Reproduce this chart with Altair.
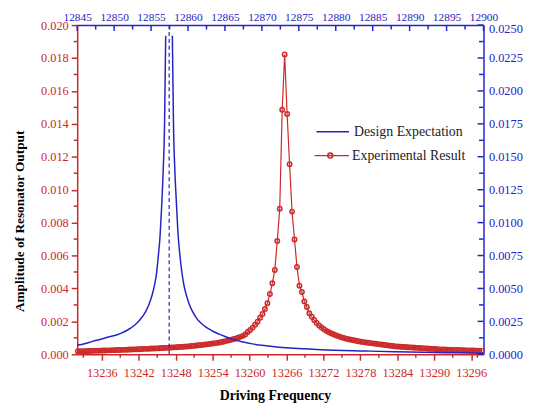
import altair as alt
import pandas as pd

RED = "#cc2a2a"
BLUE = "#2424c4"
FONT = "Liberation Serif"
W, H = 411, 333

# ---- Experimental result (bottom / left axes) ----
red_freq = [
    13232.1, 13232.5, 13232.9, 13233.3, 13233.7, 13234.1, 13234.5, 13234.9, 13235.3, 13235.7,
    13236.1, 13236.5, 13236.9, 13237.3, 13237.7, 13238.1, 13238.5, 13238.9, 13239.3, 13239.7,
    13240.1, 13240.5, 13240.9, 13241.3, 13241.7, 13242.1, 13242.5, 13242.9, 13243.3, 13243.7,
    13244.1, 13244.5, 13244.9, 13245.3, 13245.7, 13246.1, 13246.5, 13246.9, 13247.3, 13247.7,
    13248.1, 13248.5, 13248.9, 13249.3, 13249.7, 13250.1, 13250.5, 13250.9, 13251.3, 13251.7,
    13252.1, 13252.5, 13252.9, 13253.3, 13253.7, 13254.1, 13254.5, 13254.9, 13255.3, 13255.7,
    13256.1, 13256.5, 13256.9, 13257.3, 13257.7, 13258.1, 13258.5, 13258.9, 13259.3, 13259.7,
    13260.1, 13260.5, 13260.9, 13261.3, 13261.7, 13262.1, 13262.5, 13262.9, 13263.3, 13263.7,
    13264.1, 13264.5, 13264.9, 13265.3, 13265.7, 13266.1, 13266.5, 13266.9, 13267.3, 13267.7,
    13268.1, 13268.5, 13268.9, 13269.3, 13269.7, 13270.1, 13270.5, 13270.9, 13271.3, 13271.7,
    13272.1, 13272.5, 13272.9, 13273.3, 13273.7, 13274.1, 13274.5, 13274.9, 13275.3, 13275.7,
    13276.1, 13276.5, 13276.9, 13277.3, 13277.7, 13278.1, 13278.5, 13278.9, 13279.3, 13279.7,
    13280.1, 13280.5, 13280.9, 13281.3, 13281.7, 13282.1, 13282.5, 13282.9, 13283.3, 13283.7,
    13284.1, 13284.5, 13284.9, 13285.3, 13285.7, 13286.1, 13286.5, 13286.9, 13287.3, 13287.7,
    13288.1, 13288.5, 13288.9, 13289.3, 13289.7, 13290.1, 13290.5, 13290.9, 13291.3, 13291.7,
    13292.1, 13292.5, 13292.9, 13293.3, 13293.7, 13294.1, 13294.5, 13294.9, 13295.3, 13295.7,
    13296.1, 13296.5, 13296.9, 13297.3, 13297.7,
]
red_amp = [
    0.00018, 0.00018, 0.00019, 0.00019, 0.00020, 0.00020, 0.00021, 0.00021, 0.00022, 0.00022,
    0.00023, 0.00023, 0.00024, 0.00024, 0.00025, 0.00025, 0.00026, 0.00026, 0.00027, 0.00027,
    0.00028, 0.00029, 0.00029, 0.00030, 0.00031, 0.00031, 0.00032, 0.00033, 0.00033, 0.00034,
    0.00035, 0.00035, 0.00036, 0.00037, 0.00038, 0.00038, 0.00039, 0.00040, 0.00041, 0.00042,
    0.00043, 0.00044, 0.00045, 0.00046, 0.00047, 0.00048, 0.00050, 0.00051, 0.00053, 0.00055,
    0.00056, 0.00058, 0.00060, 0.00062, 0.00064, 0.00066, 0.00068, 0.00070, 0.00073, 0.00076,
    0.00080, 0.00083, 0.00087, 0.00091, 0.00095, 0.00100, 0.00106, 0.00112, 0.00120, 0.00135,
    0.00148, 0.00162, 0.00180, 0.00198, 0.00222, 0.00245, 0.00275, 0.00310, 0.00366, 0.00432,
    0.00512, 0.00689, 0.00884, 0.01486, 0.01821, 0.01460, 0.01155, 0.00867, 0.00697, 0.00530,
    0.00417, 0.00378, 0.00321, 0.00287, 0.00250, 0.00228, 0.00208, 0.00190, 0.00175, 0.00163,
    0.00152, 0.00142, 0.00134, 0.00127, 0.00120, 0.00114, 0.00109, 0.00104, 0.00099, 0.00095,
    0.00091, 0.00088, 0.00085, 0.00082, 0.00079, 0.00076, 0.00074, 0.00072, 0.00070, 0.00068,
    0.00066, 0.00064, 0.00062, 0.00060, 0.00058, 0.00056, 0.00054, 0.00052, 0.00050, 0.00048,
    0.00047, 0.00046, 0.00045, 0.00044, 0.00043, 0.00042, 0.00041, 0.00040, 0.00039, 0.00038,
    0.00037, 0.00036, 0.00035, 0.00034, 0.00033, 0.00032, 0.00031, 0.00030, 0.00029, 0.00029,
    0.00028, 0.00028, 0.00027, 0.00027, 0.00026, 0.00026, 0.00025, 0.00025, 0.00024, 0.00024,
    0.00023, 0.00023, 0.00022, 0.00022, 0.00021,
]

# ---- Design expectation (top / right axes) ----
blue_left_freq = [12845.0, 12846.0, 12847.07, 12848.2, 12849.32, 12850.5, 12851.05, 12851.58,
                  12852.05, 12852.5, 12852.95, 12853.38, 12853.68, 12853.93, 12854.18,
                  12854.43, 12854.68, 12854.93, 12855.18, 12855.43, 12855.73, 12855.97,
                  12856.23, 12856.43, 12856.63, 12856.83, 12856.98]
blue_left_amp = [0.00068, 0.00080, 0.00098, 0.00114, 0.00133, 0.00150, 0.00163, 0.00177,
                 0.00192, 0.00209, 0.00230, 0.00254, 0.00275, 0.00294, 0.00317,
                 0.00343, 0.00375, 0.00412, 0.00458, 0.00515, 0.00610, 0.00740,
                 0.00910, 0.01120, 0.01380, 0.01760, 0.02420]
blue_right_freq = [12857.88, 12858.03, 12858.23, 12858.43, 12858.63, 12858.89, 12859.13,
                   12859.43, 12859.68, 12859.93, 12860.18, 12860.43, 12860.68, 12860.93,
                   12861.18, 12861.48, 12861.93, 12862.43, 12862.93, 12863.5, 12864.2,
                   12865.0, 12866.0, 12867.3, 12868.7, 12870.3, 12872.3, 12874.3, 12878.0,
                   12884.0, 12888.0, 12892.0, 12896.0, 12900.0]
blue_right_amp = [0.02420, 0.01760, 0.01380, 0.01150, 0.00930, 0.00760, 0.00640,
                  0.00530, 0.00468, 0.00420, 0.00378, 0.00345, 0.00318, 0.00294,
                  0.00273, 0.00252, 0.00228, 0.00206, 0.00189, 0.00171, 0.00153,
                  0.00135, 0.00115, 0.00095, 0.00079, 0.00066, 0.00054, 0.00045, 0.00035,
                  0.00025, 0.00019, 0.00015, 0.00011, 0.00008]
resonance_freq = [12857.45]

# ---- ticks ----
bottom_ticks = [13236, 13242, 13248, 13254, 13260, 13266, 13272, 13278, 13284, 13290, 13296]
bottom_minor = [13233, 13239, 13245, 13251, 13257, 13263, 13269, 13275, 13281, 13287, 13293, 13297]
left_ticks = [0.0, 0.002, 0.004, 0.006, 0.008, 0.010, 0.012, 0.014, 0.016, 0.018, 0.020]
left_minor = [0.001, 0.003, 0.005, 0.007, 0.009, 0.011, 0.013, 0.015, 0.017, 0.019]
top_ticks = [12845, 12850, 12855, 12860, 12865, 12870, 12875, 12880, 12885, 12890, 12895, 12900]
top_minor = [12847.5, 12852.5, 12857.5, 12862.5, 12867.5, 12872.5, 12877.5, 12882.5,
             12887.5, 12892.5, 12897.5]
right_ticks = [0.0, 0.0025, 0.005, 0.0075, 0.010, 0.0125, 0.015, 0.0175, 0.020, 0.0225, 0.025]
right_minor = [0.00125, 0.00375, 0.00625, 0.00875, 0.01125, 0.01375, 0.01625, 0.01875,
               0.02125, 0.02375]

red_df = pd.DataFrame({"freq": red_freq, "amp": red_amp})
blue_df = pd.concat([
    pd.DataFrame({"freq": blue_left_freq, "amp": blue_left_amp, "branch": "a"}),
    pd.DataFrame({"freq": blue_right_freq, "amp": blue_right_amp, "branch": "b"}),
])

# ---------- red group ----------
x_red = alt.X("freq:Q",
              scale=alt.Scale(domain=[13232, 13298], nice=False, zero=False),
              axis=alt.Axis(orient="bottom", values=bottom_ticks, format="d",
                            title="Driving Frequency", domainColor=RED, tickColor=RED,
                            labelColor=RED, tickSize=6, tickWidth=1.5, domainWidth=1.5,
                            labelPadding=6, labelFont=FONT, labelFontSize=12.5,
                            labelFlush=False, labelOverlap=False,
                            titleFont=FONT, titleFontSize=14, titleFontWeight="bold",
                            titleColor="black", titlePadding=10, titleX=200, grid=False))
y_red = alt.Y("amp:Q",
              scale=alt.Scale(domain=[0, 0.02], nice=False, zero=False),
              axis=alt.Axis(orient="left", values=left_ticks, format=".3f",
                            title="Amplitude of Resonator Output", domainColor=RED,
                            tickColor=RED, labelColor=RED, tickSize=6, tickWidth=1.5,
                            domainWidth=1.5, labelPadding=3, labelFont=FONT,
                            labelFontSize=12.5, labelFlush=False, labelOverlap=False,
                            titleFont=FONT, titleFontSize=13.5, titleFontWeight="bold",
                            titleColor="black", titlePadding=14, titleY=198, grid=False))

red_base = alt.Chart(red_df).encode(x=x_red, y=y_red)
red_line = red_base.mark_line(color=RED, strokeWidth=1.2)
red_pts = red_base.mark_point(shape="circle", filled=False, color=RED, size=20,
                              strokeWidth=1.5, opacity=1)
bottom_minor_layer = alt.Chart(pd.DataFrame({"freq": bottom_minor})).mark_rule(
    color=RED, strokeWidth=1.5).encode(x=x_red, y=alt.value(H), y2=alt.value(H + 3.5))
left_minor_layer = alt.Chart(pd.DataFrame({"amp": left_minor})).mark_rule(
    color=RED, strokeWidth=1.5).encode(y=y_red, x=alt.value(0), x2=alt.value(-3.5))

red_group = alt.layer(red_line, red_pts, bottom_minor_layer, left_minor_layer)

# ---------- blue group ----------
x_blue = alt.X("freq:Q",
               scale=alt.Scale(domain=[12845, 12900], nice=False, zero=False),
               axis=alt.Axis(orient="top", values=top_ticks, format="d", title=None,
                             ticks=False, tickSize=0, domainColor=BLUE, domainWidth=1.5,
                             labelColor=BLUE, labelPadding=3, labelFont=FONT,
                             labelFontSize=11.5, labelFlush=False, labelOverlap=False,
                             grid=False))
y_blue = alt.Y("amp:Q",
               scale=alt.Scale(domain=[0, 0.025], nice=False, zero=False),
               axis=alt.Axis(orient="right", values=right_ticks, format=".4f", title=None,
                             ticks=False, tickSize=0, domainColor=BLUE, domainWidth=1.5,
                             labelColor=BLUE, labelPadding=5, labelFont=FONT,
                             labelFontSize=12.5, labelFlush=False, labelOverlap=False,
                             labelOffset={"condition": {"test": "datum.value >= 0.0249",
                                                        "value": 4}, "value": 0},
                             grid=False))

blue_line = alt.Chart(blue_df).mark_line(color=BLUE, strokeWidth=1.5,
                                         interpolate="monotone").encode(
    x=x_blue, y=y_blue, detail="branch:N")
dash_line = alt.Chart(pd.DataFrame({"freq": resonance_freq})).mark_rule(
    color=BLUE, strokeWidth=1.2, strokeDash=[4, 3]).encode(
    x=x_blue, y=alt.value(0), y2=alt.value(H))
top_major = alt.Chart(pd.DataFrame({"freq": top_ticks})).mark_rule(
    color=BLUE, strokeWidth=1.5).encode(x=x_blue, y=alt.value(0), y2=alt.value(6))
top_minor_layer = alt.Chart(pd.DataFrame({"freq": top_minor})).mark_rule(
    color=BLUE, strokeWidth=1.5).encode(x=x_blue, y=alt.value(0), y2=alt.value(4.5))
right_major = alt.Chart(pd.DataFrame({"amp": right_ticks})).mark_rule(
    color=BLUE, strokeWidth=1.5).encode(y=y_blue, x=alt.value(W), x2=alt.value(W - 6))
right_minor_layer = alt.Chart(pd.DataFrame({"amp": right_minor})).mark_rule(
    color=BLUE, strokeWidth=1.5).encode(y=y_blue, x=alt.value(W), x2=alt.value(W - 4.5))

blue_group = alt.layer(blue_line, dash_line, top_major, top_minor_layer,
                       right_major, right_minor_layer)

# ---------- legend ----------
legend_names = ["Design Expectation", "Experimental Result"]
one = pd.DataFrame({"k": [0]})
leg_blue_line = alt.Chart(one).mark_rule(color=BLUE, strokeWidth=1.5).encode(
    x=alt.value(242), x2=alt.value(275), y=alt.value(108))
leg_blue_text = alt.Chart(one).mark_text(align="left", baseline="middle", font=FONT,
                                         fontSize=14, color="#222222").encode(
    x=alt.value(280), y=alt.value(108), text=alt.value(legend_names[0]))
leg_red_line = alt.Chart(one).mark_rule(color=RED, strokeWidth=1.3).encode(
    x=alt.value(240), x2=alt.value(275), y=alt.value(132))
leg_red_pt = alt.Chart(one).mark_point(shape="circle", filled=False, color=RED, size=24,
                                       strokeWidth=1.6, opacity=1).encode(
    x=alt.value(256), y=alt.value(132))
leg_red_text = alt.Chart(one).mark_text(align="left", baseline="middle", font=FONT,
                                        fontSize=14, color="#222222").encode(
    x=alt.value(278), y=alt.value(132), text=alt.value(legend_names[1]))

chart = alt.layer(
    red_group, blue_group,
    leg_blue_line, leg_blue_text, leg_red_line, leg_red_pt, leg_red_text,
).resolve_scale(x="independent", y="independent").properties(
    width=W, height=H, autosize="none", background="white",
    padding={"left": 70, "top": 15, "right": 44, "bottom": 48},
).configure_view(strokeWidth=0).configure_axis(
    labelFont=FONT, titleFont=FONT, labelOverlap=False)

chart.save("out.html", embed_options={"renderer": "svg", "actions": False})
